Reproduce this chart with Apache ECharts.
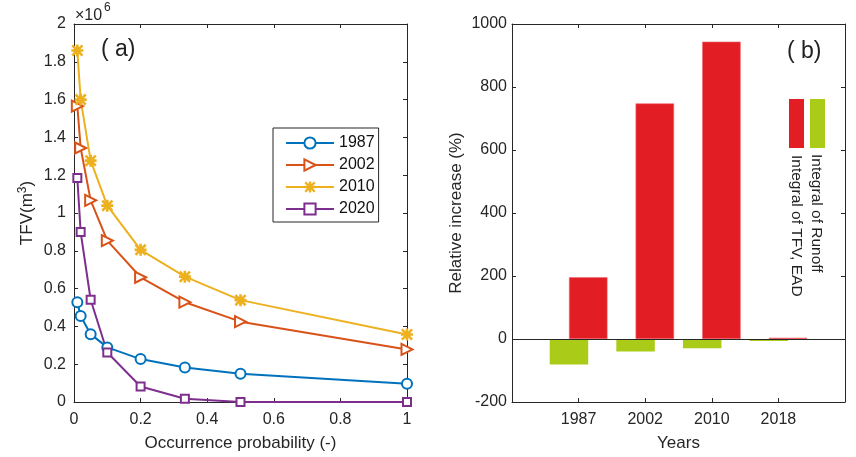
<!DOCTYPE html>
<html><head><meta charset="utf-8">
<script src="https://cdn.jsdelivr.net/npm/echarts@6/dist/echarts.min.js"></script>
<style>html,body{margin:0;padding:0;background:#fff}#c{width:856px;height:457px}</style>
</head><body><div id="c"></div>
<script>
// ---- data (panel a: TFV in units of 10^6 m^3) ----
const probabilities = [0.01, 0.02, 0.05, 0.1, 0.2, 0.333, 0.5, 1];
const tfv1987 = [0.528, 0.455, 0.359, 0.289, 0.227, 0.182, 0.150, 0.097];
const tfv2002 = [1.566, 1.344, 1.067, 0.854, 0.660, 0.528, 0.425, 0.278];
const tfv2010 = [1.860, 1.600, 1.277, 1.039, 0.805, 0.663, 0.539, 0.357];
const tfv2020 = [1.185, 0.899, 0.541, 0.262, 0.082, 0.017, 0.000, 0.000];
const lineNames = ['1987', '2002', '2010', '2020'];
// ---- data (panel b: relative increase %) ----
const barYears = ['', '1987', '2002', '2010', '2018', ''];
const runoffIncrease = [null, -81, -40, -29.5, -6, null];
const tfvIncrease = [null, 196, 748, 944, 4, null];

const AX = '#262626';
const FONT = 'Liberation Sans, Arial, sans-serif';
const colors = ['#0072BD', '#D95319', '#EDB120', '#7E2F8E'];
const asterisk = 'path://M3.9,0L6.1,0L6.1,10L3.9,10Z M0,3.9L10,3.9L10,6.1L0,6.1Z M0,1.5L1.5,0L10,8.5L8.5,10Z M8.5,0L10,1.5L1.5,10L0,8.5Z';

function zip(xs, ys) { return xs.map((x, i) => [x, ys[i]]); }

const tick = { show: true, inside: true, length: 4, lineStyle: { color: AX, width: 1 } };
const line = { show: true, onZero: false, lineStyle: { color: AX, width: 1 } };
const lbl = { color: AX, fontSize: 16, fontFamily: FONT };

const chart = echarts.init(document.getElementById('c'), null, { renderer: 'canvas' });

function lineSeries(name, data, color, symbol, size, rotate, filled) {
  return {
    type: 'line', name: name, xAxisIndex: 0, yAxisIndex: 0,
    data: zip(probabilities, data),
    symbol: symbol, symbolSize: size, symbolRotate: rotate || 0,
    showAllSymbol: true,
    lineStyle: { color: color, width: 2 },
    itemStyle: filled ? { color: color } : { color: color, borderColor: color, borderWidth: 1.6 },
    emphasis: { disabled: true }, animation: false
  };
}

chart.setOption({
  animation: false,
  textStyle: { fontFamily: FONT },
  grid: [
    { left: 74, right: 449, top: 24, bottom: 52 },
    { left: 512, right: 11, top: 24, bottom: 51 }
  ],
  legend: {
    data: lineNames, orient: 'vertical', left: 273, top: 128,
    padding: [7, 4, 5, 12], itemWidth: 48, itemHeight: 14, itemGap: 6, itemTextGap: 6,
    borderColor: AX, borderWidth: 1, backgroundColor: '#fff',
    textStyle: { color: '#111', fontSize: 16, fontFamily: FONT }
  },
  xAxis: [
    { type: 'value', gridIndex: 0, position: 'bottom', min: 0, max: 1, interval: 0.2,
      axisLine: line, axisTick: tick, splitLine: { show: false },
      axisLabel: Object.assign({ margin: 10 }, lbl),
      name: 'Occurrence probability (-)', nameLocation: 'middle', nameGap: 33,
      nameTextStyle: { color: AX, fontSize: 17, fontFamily: FONT } },
    { type: 'value', gridIndex: 0, position: 'top', min: 0, max: 1, interval: 0.2,
      axisLine: line, axisTick: tick, splitLine: { show: false }, axisLabel: { show: false } },
    { type: 'category', gridIndex: 1, position: 'bottom', data: barYears, boundaryGap: false,
      axisLine: line, axisTick: Object.assign({ interval: 0 }, tick), splitLine: { show: false },
      axisLabel: Object.assign({ margin: 10, interval: 0 }, lbl),
      name: 'Years', nameLocation: 'middle', nameGap: 33,
      nameTextStyle: { color: AX, fontSize: 17, fontFamily: FONT } },
    { type: 'category', gridIndex: 1, position: 'top', data: barYears, boundaryGap: false,
      axisLine: line, axisTick: Object.assign({ interval: 0 }, tick), splitLine: { show: false },
      axisLabel: { show: false } }
  ],
  yAxis: [
    { type: 'value', gridIndex: 0, position: 'left', min: 0, max: 2, interval: 0.2,
      axisLine: line, axisTick: tick, splitLine: { show: false },
      axisLabel: Object.assign({ margin: 8, formatter: v => String(+v.toFixed(1)) }, lbl),
      name: '{a|TFV(m}{b|3}{a|)}', nameLocation: 'middle', nameGap: 37,
      nameTextStyle: { color: AX, fontSize: 17, fontFamily: FONT,
        rich: { a: { fontSize: 17, color: AX, fontFamily: FONT },
                b: { fontSize: 12, color: AX, fontFamily: FONT, verticalAlign: 'top', padding: [0, 0, 8, 0] } } } },
    { type: 'value', gridIndex: 0, position: 'right', min: 0, max: 2, interval: 0.2,
      axisLine: line, axisTick: tick, splitLine: { show: false }, axisLabel: { show: false } },
    { type: 'value', gridIndex: 1, position: 'left', min: -200, max: 1000, interval: 200,
      axisLine: line, axisTick: tick, splitLine: { show: false },
      axisLabel: Object.assign({ margin: 5, formatter: v => String(v) }, lbl),
      name: 'Relative increase (%)', nameLocation: 'middle', nameGap: 47,
      nameTextStyle: { color: AX, fontSize: 17, fontFamily: FONT } },
    { type: 'value', gridIndex: 1, position: 'right', min: -200, max: 1000, interval: 200,
      axisLine: line, axisTick: tick, splitLine: { show: false }, axisLabel: { show: false } }
  ],
  series: [
    lineSeries('1987', tfv1987, colors[0], 'emptyCircle', 10),
    lineSeries('2002', tfv2002, colors[1], 'emptyTriangle', 11, -90),
    lineSeries('2010', tfv2010, colors[2], asterisk, 12, 0, true),
    lineSeries('2020', tfv2020, colors[3], 'emptyRect', 8),
    { type: 'bar', name: 'Integral of Runoff', xAxisIndex: 2, yAxisIndex: 2,
      data: runoffIncrease, barWidth: 38.5, barGap: '-50%',
      itemStyle: { color: '#AACC18' }, emphasis: { disabled: true } },
    { type: 'bar', name: 'Integral of TFV, EAD', xAxisIndex: 2, yAxisIndex: 2,
      data: tfvIncrease, barWidth: 38.5, barGap: '-50%',
      itemStyle: { color: '#E31D24', borderColor: '#F06A70', borderWidth: 0.6 }, emphasis: { disabled: true },
      markLine: { silent: true, symbol: ['none', 'none'], label: { show: false },
        lineStyle: { color: AX, width: 1, type: 'solid' }, data: [{ yAxis: 0 }] } }
  ],
  graphic: [
    { type: 'text', left: 75, top: 8, style: { text: '×10', fontSize: 16, fontFamily: FONT, fill: AX } },
    { type: 'text', left: 104, top: 2, style: { text: '6', fontSize: 12, fontFamily: FONT, fill: AX } },
    { type: 'text', left: 101, top: 38, style: { text: '( a)', fontSize: 23, fontFamily: FONT, fill: '#222' } },
    { type: 'text', left: 787, top: 40, style: { text: '( b)', fontSize: 23, fontFamily: FONT, fill: '#222' } },
    { type: 'rect', shape: { x: 789, y: 99, width: 15, height: 49 }, style: { fill: '#E31D24' } },
    { type: 'rect', shape: { x: 810, y: 99, width: 15, height: 49 }, style: { fill: '#AACC18' } },
    { type: 'text', x: 796, y: 155, rotation: -Math.PI / 2,
      style: { text: 'Integral of TFV, EAD', x: 0, y: 0, align: 'left', verticalAlign: 'middle', fontSize: 15.5, fontFamily: FONT, fill: '#222' } },
    { type: 'text', x: 816, y: 154, rotation: -Math.PI / 2,
      style: { text: 'Integral of Runoff', x: 0, y: 0, align: 'left', verticalAlign: 'middle', fontSize: 15.5, fontFamily: FONT, fill: '#222' } }
  ]
});
</script>
</body></html>
